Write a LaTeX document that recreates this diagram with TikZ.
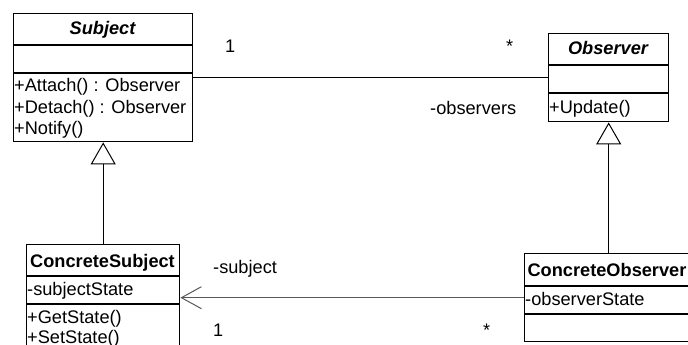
\documentclass[tikz,border=0pt]{standalone}
\usepackage{fontspec}
\setmainfont{Liberation Sans}
\usetikzlibrary{arrows.meta}
\begin{document}
\begin{tikzpicture}[x=1pt,y=-1pt,
  every node/.style={font=\fontsize{18.2}{22}\selectfont},
  umlbox/.style={draw, line width=1.4pt, inner sep=0pt, anchor=north west},
  sepline/.style={line width=1.4pt},
  txt/.style={inner sep=0pt, anchor=base west},
  ttl/.style={inner sep=0pt, anchor=base, font=\fontsize{18.2}{22}\selectfont\bfseries},
  lbl/.style={inner sep=0pt, anchor=base west},
  gen/.style={line width=1pt, -{Triangle[open, length=22pt, width=25pt, line width=1pt]}},
  assoc/.style={line width=1pt},
  nav/.style={line width=1pt, draw=black!65, -{Straight Barb[length=20pt, width=22pt, line width=1pt]}}
]
\useasboundingbox (0,0) rectangle (688,345);
\fill[white] (0,0) rectangle (688,345);

% Subject
\node[umlbox, minimum width=179pt, minimum height=128pt] (subject) at (13,13) {};
\draw[sepline] (13,45) -- (192,45);
\draw[sepline] (13,73) -- (192,73);
\node[ttl, font=\fontsize{18.2}{22}\selectfont\bfseries\itshape] (subjectT) at (102.5,35) {Subject};
\node[txt] (sa) at (14,92) {+Attach() : Observer};
\node[txt] (sd) at (14,113) {+Detach() : Observer};
\node[txt] (sn) at (14,134) {+Notify()};

% Observer
\node[umlbox, minimum width=120pt, minimum height=88pt] (observer) at (548,33) {};
\draw[sepline] (548,65) -- (668,65);
\draw[sepline] (548,93) -- (668,93);
\node[ttl, font=\fontsize{18.2}{22}\selectfont\bfseries\itshape] (observerT) at (608,55) {Observer};
\node[txt] (ou) at (549,113) {+Update()};

% ConcreteSubject
\node[umlbox, minimum width=153pt, minimum height=120pt] (csub) at (26,244) {};
\draw[sepline] (26,276) -- (179,276);
\draw[sepline] (26,304) -- (179,304);
\node[ttl] (csubT) at (102.5,267) {ConcreteSubject};
\node[txt] (cs1) at (27,295) {-subjectState};
\node[txt] (cs2) at (27,323) {+GetState()};
\node[txt] (cs3) at (27,343) {+SetState()};

% ConcreteObserver
\node[umlbox, minimum width=168pt, minimum height=88pt] (cobs) at (524,253) {};
\draw[sepline] (524,286) -- (692,286);
\draw[sepline] (524,314) -- (692,314);
\node[ttl] (cobsT) at (607,276) {ConcreteObserver};
\node[txt] (co1) at (525,305) {-observerState};

% Connectors
\draw[gen] (csub.north) -- (subject.south);
\draw[gen] (cobs.north) -- (observer.south);
\draw[assoc] (subject.east) -- (observer.west);
\draw[nav] (cobs.west) -- (cobs.west -| csub.east);

% Labels
\node[lbl] (l1) at (225,53) {1};
\node[lbl] (l2) at (506,53) {*};
\node[lbl] (l3) at (430,114) {-observers};
\node[lbl] (l4) at (213,273) {-subject};
\node[lbl] (l5) at (213,336) {1};
\node[lbl] (l6) at (483,336) {*};
\end{tikzpicture}
\end{document}
